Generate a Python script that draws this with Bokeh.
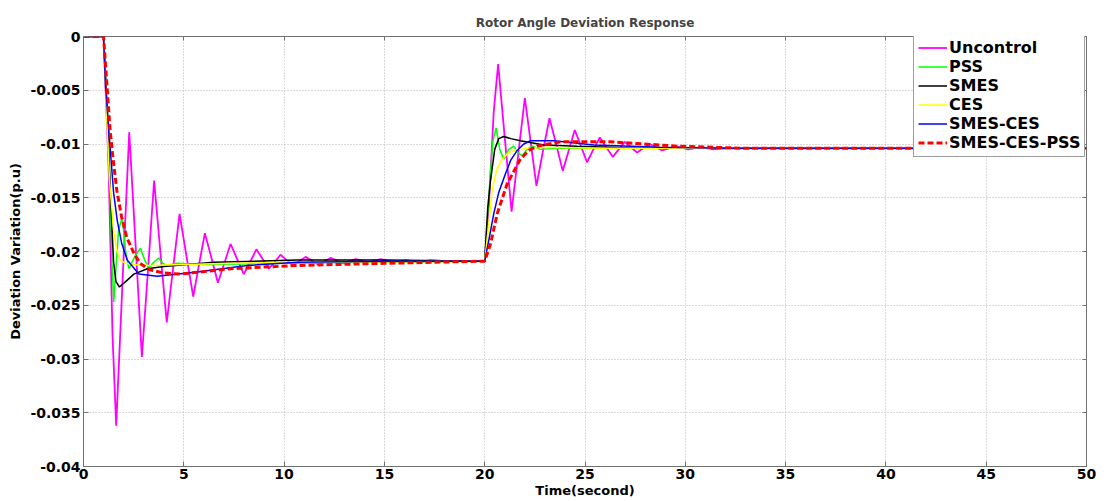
from bokeh.plotting import figure
from bokeh.models import (Range1d, Legend, LegendItem, FixedTicker, CustomJSTickFormatter,
                          LinearAxis)
from bokeh.embed import file_html
from bokeh.resources import INLINE

# ---------------- data ----------------
title_text = "Rotor Angle Deviation Response"
x_label = "Time(second)"
y_label = "Deviation Variation(p.u)"

x_ticks = [0, 5, 10, 15, 20, 25, 30, 35, 40, 45, 50]
y_ticks = [-0.04, -0.035, -0.03, -0.025, -0.02, -0.015, -0.01, -0.005, 0]
y_tick_labels = ["-0.04", "-0.035", "-0.03", "-0.025", "-0.02", "-0.015", "-0.01", "-0.005", "0"]

series_names = ["Uncontrol", "PSS", "SMES", "CES", "SMES-CES", "SMES-CES-PSS"]

unc_t = [0, 1.0, 1.25, 1.45, 1.63, 1.95, 2.28, 2.60, 2.91, 3.22, 3.52, 3.83, 4.15, 4.47,
         4.79, 5.13, 5.47, 5.76, 6.05, 6.38, 6.70, 7.02, 7.33, 7.66, 7.99, 8.30, 8.62,
         8.93, 9.24, 9.53, 9.82, 10.13, 10.45, 10.76, 11.07, 11.7, 12.32, 12.95, 13.57,
         14.2, 14.82, 15.45, 16.07, 16.7, 17.3, 18.0, 20.0,
         20.2, 20.45, 20.67, 21.0, 21.34, 21.67, 22.0, 22.29, 22.58, 22.9, 23.23, 23.56,
         23.89, 24.19, 24.49, 24.8, 25.1, 25.42, 25.74, 26.06, 26.39, 26.68, 26.98, 27.29,
         27.6, 27.9, 28.23, 28.54, 28.85, 29.18, 29.51, 30.14, 30.77, 31.4, 32.0, 50.0]
unc_v = [0, 0, -0.012, -0.028, -0.0362, -0.0226, -0.0089, -0.0195, -0.0298, -0.0216, -0.0134,
         -0.0200, -0.0266, -0.0215, -0.0165, -0.0204, -0.0242, -0.0212, -0.0183, -0.0206,
         -0.0229, -0.0211, -0.0193, -0.0207, -0.0221, -0.0210, -0.0198, -0.0207, -0.0216,
         -0.0210, -0.0203, -0.0208, -0.0213, -0.0209, -0.0205, -0.0212, -0.0206, -0.0211,
         -0.0207, -0.0210, -0.0207, -0.0210, -0.0208, -0.0210, -0.0208, -0.0209, -0.0209,
         -0.0160, -0.0070, -0.00257, -0.0094, -0.0163, -0.0110, -0.00572, -0.0098, -0.0139,
         -0.0107, -0.0076, -0.0100, -0.0125, -0.0106, -0.0087, -0.0102, -0.0117, -0.0105,
         -0.0094, -0.0103, -0.0112, -0.0105, -0.0098, -0.0103, -0.0108, -0.0104, -0.0100,
         -0.0103, -0.0106, -0.0104, -0.0102, -0.0105, -0.0103, -0.0105, -0.0104, -0.0104]

pss_t = [0, 1.0, 1.15, 1.3, 1.42, 1.51, 1.6, 1.75, 1.93, 2.1, 2.26, 2.55, 2.84, 3.05, 3.26,
         3.5, 3.75, 3.95, 4.14, 4.4, 4.67, 6.0, 10.0, 15.0, 20.0,
         20.2, 20.4, 20.57, 20.75, 20.95, 21.2, 21.45, 21.65, 21.87, 22.1, 22.37, 22.78,
         23.5, 50.0]
pss_v = [0, 0, -0.006, -0.013, -0.021, -0.0247, -0.0220, -0.0180, -0.0168, -0.0200, -0.0216,
         -0.0205, -0.0197, -0.0208, -0.0215, -0.0210, -0.0206, -0.0211, -0.0213, -0.0212,
         -0.0211, -0.0212, -0.0211, -0.0210, -0.0209,
         -0.0150, -0.0098, -0.0085, -0.0105, -0.0114, -0.0105, -0.0102, -0.0108, -0.0111,
         -0.0105, -0.0102, -0.0105, -0.0104, -0.0104]

smes_t = [0, 1.0, 1.2, 1.35, 1.5, 1.62, 1.79, 2.1, 2.51, 3.18, 4.0, 6.5, 10.65, 15.0, 20.0,
          20.15, 20.29, 20.5, 20.7, 20.95, 21.3, 21.78, 22.95, 24.6, 28.0, 50.0]
smes_v = [0, 0, -0.0075, -0.0150, -0.0210, -0.0228, -0.0233, -0.0228, -0.0221, -0.0216,
          -0.0214, -0.0210, -0.0208, -0.0208, -0.0209,
          -0.0160, -0.0134, -0.0105, -0.0095, -0.0093, -0.0095, -0.0097, -0.0101, -0.0102,
          -0.0104, -0.0104]

ces_t = [0, 1.0, 1.16, 1.3, 1.5, 1.65, 1.83, 2.1, 2.5, 3.3, 5.0, 10.0, 20.0,
         20.2, 20.37, 20.6, 20.87, 21.2, 21.62, 22.95, 26.0, 50.0]
ces_v = [0, 0, -0.0075, -0.0135, -0.0180, -0.0198, -0.0208, -0.0211, -0.0212, -0.0213,
         -0.0212, -0.0210, -0.0209,
         -0.0175, -0.0143, -0.0124, -0.0114, -0.0108, -0.0105, -0.0103, -0.0104, -0.0104]

sc_t = [0, 1.0, 1.1, 1.35, 1.5, 1.68, 1.9, 2.18, 2.76, 3.67, 5.67, 8.16, 10.65, 15.0, 20.0,
        20.2, 20.45, 20.7, 21.03, 21.3, 21.62, 21.95, 22.28, 23.45, 25.44, 28.76, 32.0, 50.0]
sc_v = [0, 0, -0.0047, -0.0109, -0.0145, -0.0171, -0.0192, -0.0208, -0.0221, -0.0223,
        -0.0219, -0.0213, -0.0210, -0.0209, -0.0209,
        -0.0190, -0.0165, -0.0145, -0.0128, -0.0115, -0.0106, -0.0100, -0.0097, -0.0097,
        -0.0101, -0.0103, -0.0104, -0.0104]

scp_t = [0, 1.0, 1.15, 1.33, 1.5, 1.66, 1.9, 2.16, 2.5, 2.82, 3.3, 4.0, 4.84, 7.33, 10.65,
         15.0, 20.0,
         20.29, 20.62, 21.12, 21.78, 22.2, 22.61, 23.78, 26.27, 29.6, 33.0, 50.0]
scp_v = [0, 0, -0.0040, -0.0088, -0.0118, -0.0143, -0.0168, -0.0187, -0.0201, -0.0211,
         -0.0217, -0.0220, -0.0221, -0.0216, -0.0213, -0.0211, -0.0209,
         -0.0193, -0.0165, -0.0137, -0.0114, -0.0106, -0.0102, -0.0098, -0.0098, -0.0102,
         -0.0104, -0.0104]

# ---------------- figure ----------------
FONT = "DejaVu Sans"

p = figure(width=1107, height=502, output_backend="svg", toolbar_location=None,
           x_range=Range1d(0, 50), y_range=Range1d(-0.04, 0),
           min_border_left=83, min_border_right=21, min_border_top=36, min_border_bottom=36,
           title=title_text)
p.background_fill_color = "white"
p.border_fill_color = "white"
p.outline_line_color = "#707070"
p.outline_line_width = 1
p.outline_line_alpha = 1

p.title.align = "center"
p.title.text_font = FONT
p.title.text_font_style = "bold"
p.title.text_font_size = "12px"
p.title.standoff = 14

ylab_fmt = CustomJSTickFormatter(args=dict(vals=y_ticks, labs=y_tick_labels), code="""
    let best = 0, d = 1e9;
    for (let i = 0; i < vals.length; i++) {
        const dd = Math.abs(vals[i] - tick);
        if (dd < d) { d = dd; best = i; }
    }
    return labs[best];
""")

for ax in (p.xaxis[0], p.yaxis[0]):
    ax.major_label_text_font = FONT
    ax.major_label_text_font_style = "bold"
    ax.major_label_text_font_size = "14px"
    ax.major_label_text_color = "black"
    ax.axis_label_text_font = FONT
    ax.axis_label_text_font_style = "bold"
    ax.axis_label_text_font_size = "13px"
    ax.axis_label_text_color = "black"
    ax.major_tick_in = 5
    ax.major_tick_out = 0
    ax.minor_tick_line_color = None
    ax.axis_line_color = "#707070"
    ax.major_tick_line_color = "#707070"

p.xaxis[0].ticker = FixedTicker(ticks=x_ticks)
p.yaxis[0].ticker = FixedTicker(ticks=y_ticks)
p.yaxis[0].formatter = ylab_fmt
p.xaxis[0].axis_label = x_label
p.yaxis[0].axis_label = y_label
p.xaxis[0].major_label_standoff = 2
p.xaxis[0].axis_label_standoff = 1
p.yaxis[0].major_label_standoff = 3
p.yaxis[0].axis_label_standoff = 4

# top / right tick marks (box axes) drawn as label-less minor ticks
top_ax = LinearAxis(ticker=FixedTicker(ticks=[], minor_ticks=x_ticks),
                    minor_tick_in=4, minor_tick_out=0, minor_tick_line_color="#707070",
                    major_tick_line_color=None, axis_line_color=None,
                    major_label_standoff=0, axis_label_standoff=0)
right_ax = LinearAxis(ticker=FixedTicker(ticks=[], minor_ticks=y_ticks),
                      minor_tick_in=4, minor_tick_out=0, minor_tick_line_color="#707070",
                      major_tick_line_color=None, axis_line_color=None,
                      major_label_standoff=0, axis_label_standoff=0)
p.add_layout(top_ax, "above")
p.add_layout(right_ax, "right")

p.xgrid.ticker = FixedTicker(ticks=x_ticks)
p.ygrid.ticker = FixedTicker(ticks=y_ticks)
for g in (p.xgrid[0], p.ygrid[0]):
    g.grid_line_color = "#b4b4b4"
    g.grid_line_dash = "1 2"
    g.grid_line_width = 1

r_unc = p.line(unc_t, unc_v, line_color="#ff00ff", line_width=1.8)
r_pss = p.line(pss_t, pss_v, line_color="#00ff00", line_width=1.5)
r_smes = p.line(smes_t, smes_v, line_color="#000000", line_width=1.5)
r_ces = p.line(ces_t, ces_v, line_color="#ffff00", line_width=1.5)
r_sc = p.line(sc_t, sc_v, line_color="#0000ff", line_width=1.5)
r_scp = p.line(scp_t, scp_v, line_color="#ff0000", line_width=3, line_dash="6 3")

renderers = [r_unc, r_pss, r_smes, r_ces, r_sc, r_scp]
legend = Legend(items=[LegendItem(label=n, renderers=[r]) for n, r in zip(series_names, renderers)],
                location=(830, 309))
legend.label_text_font = FONT
legend.label_text_font_style = "bold"
legend.label_text_font_size = "16px"
legend.label_text_color = "black"
legend.glyph_width = 29
legend.glyph_height = 19
legend.label_height = 19
legend.spacing = 0
legend.padding = 4
legend.margin = 0
legend.label_standoff = 2
legend.border_line_color = "#404040"
legend.border_line_width = 1
legend.background_fill_color = "white"
legend.background_fill_alpha = 1
p.add_layout(legend)

open("out.html", "w").write(file_html(p, INLINE))
